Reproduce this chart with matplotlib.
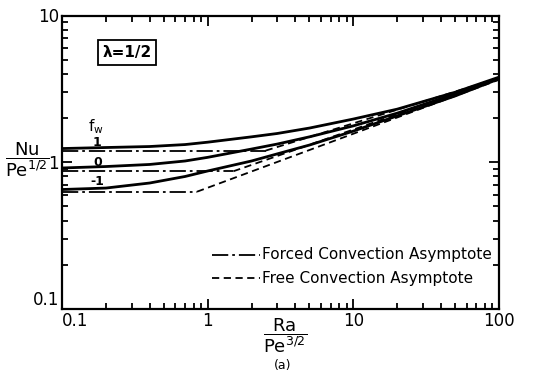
import matplotlib
matplotlib.use("Agg")
import matplotlib.pyplot as plt
from matplotlib.ticker import LogLocator, NullFormatter, FixedLocator, FixedFormatter

# ---- data ----
x_curve = [0.1, 0.2, 0.4, 0.7, 1, 2, 3, 5, 10, 20, 50, 100]
nu_fw_p1 = [1.24, 1.26, 1.28, 1.32, 1.37, 1.49, 1.57, 1.71, 1.97, 2.30, 3.00, 3.80]
nu_fw_0 = [0.914, 0.935, 0.966, 1.02, 1.08, 1.23, 1.33, 1.49, 1.77, 2.16, 2.92, 3.75]
nu_fw_m1 = [0.652, 0.667, 0.722, 0.80, 0.872, 1.02, 1.14, 1.31, 1.63, 2.07, 2.83, 3.70]

# forced convection asymptotes (horizontal): [x_start, x_end], value
forced_x_p1 = [0.1, 2.5]
forced_x_0 = [0.1, 1.5]
forced_x_m1 = [0.1, 0.845]
forced_p1 = 1.20
forced_0 = 0.868
forced_m1 = 0.63

# free convection asymptotes: end points
free_x_p1 = [2.5, 100]
free_y_p1 = [1.20, 3.75]
free_x_0 = [1.5, 100]
free_y_0 = [0.868, 3.70]
free_x_m1 = [0.845, 100]
free_y_m1 = [0.63, 3.65]

fw_labels = ["1", "0", "-1"]
x_ticks = [0.1, 1, 10, 100]
x_tick_labels = ["0.1", "1", "10", "100"]
y_ticks = [0.1, 1, 10]
y_tick_labels = ["0.1", "1", "10"]

fig = plt.figure(figsize=(5.42, 3.83), dpi=100)
ax = fig.add_axes([62/542, 1-309/383, 437/542, (309-15.5)/383])
ax.set_xscale("log")
ax.set_yscale("log")
ax.set_xlim(0.1, 100)
ax.set_ylim(0.1, 10)

solid_kw = dict(color="black", lw=2.0, solid_capstyle="round")
dd = (0, (9, 2.2, 1.5, 2.2))
forced_kw = dict(color="black", lw=1.3, linestyle=dd)
free_kw = dict(color="black", lw=1.3, linestyle=(0, (4, 2.5)))

for ys in (nu_fw_p1, nu_fw_0, nu_fw_m1):
    ax.plot(x_curve, ys, **solid_kw)

for xs, v in ((forced_x_p1, forced_p1), (forced_x_0, forced_0), (forced_x_m1, forced_m1)):
    ax.plot(xs, [v, v], **forced_kw)

for xs, ys in ((free_x_p1, free_y_p1), (free_x_0, free_y_0), (free_x_m1, free_y_m1)):
    ax.plot(xs, ys, **free_kw)

# ticks
for side in ax.spines.values():
    side.set_linewidth(1.6)
ax.tick_params(which="both", direction="in", top=True, right=True, width=1.3)
ax.tick_params(which="major", length=7, labelsize=12, pad=2)
ax.tick_params(which="minor", length=4)
ax.xaxis.set_major_locator(FixedLocator(x_ticks))
ax.xaxis.set_major_formatter(FixedFormatter(x_tick_labels))
ax.yaxis.set_major_locator(FixedLocator(y_ticks))
ax.yaxis.set_major_formatter(FixedFormatter(y_tick_labels))
ax.xaxis.set_minor_locator(LogLocator(base=10, subs=range(2, 10)))
ax.yaxis.set_minor_locator(LogLocator(base=10, subs=range(2, 10)))
ax.xaxis.set_minor_formatter(NullFormatter())
ax.yaxis.set_minor_formatter(NullFormatter())
fig.canvas.draw()
xl = ax.get_xticklabels()
xl[0].set_horizontalalignment("left")
yl = ax.get_yticklabels()
yl[0].set_verticalalignment("bottom")

# f_w labels
ax.text(0.17, 1.74, r"f$_\mathrm{w}$", fontsize=11, ha="center", va="center")
for lab, yv in zip(fw_labels, [1.36, 1.0, 0.745]):
    ax.text(0.175, yv, lab, fontsize=9, ha="center", va="center", fontweight="bold")

# lambda box
ax.text(0.149, 0.874, "λ=1/2", transform=ax.transAxes, fontsize=11, fontweight="bold",
        ha="center", va="center",
        bbox=dict(boxstyle="square,pad=0.3", fc="white", ec="black", lw=1.3))

# legend (manual)
lx0, lx1 = (212-62)/437, (260-62)/437
for yy, kw, label in ((1-(255-15.5)/293.5, forced_kw, "Forced Convection Asymptote"),
                       (1-(278-15.5)/293.5, free_kw, "Free Convection Asymptote")):
    ax.plot([lx0, lx1], [yy, yy], transform=ax.transAxes, **kw)
    ax.text(lx1 + 0.004, yy, label, transform=ax.transAxes, fontsize=11,
            ha="left", va="center")

# axis labels
fig.text(27/542, 1-160/383, r"$\dfrac{\mathrm{Nu}}{\mathrm{Pe}^{1/2}}$", fontsize=13,
         ha="center", va="center")
fig.text(285/542, 1-336/383, r"$\dfrac{\mathrm{Ra}}{\mathrm{Pe}^{3/2}}$", fontsize=13,
         ha="center", va="center")
fig.text(283/542, 1-366/383, "(a)", fontsize=9, ha="center", va="center")

fig.savefig("out.png", dpi=100)
